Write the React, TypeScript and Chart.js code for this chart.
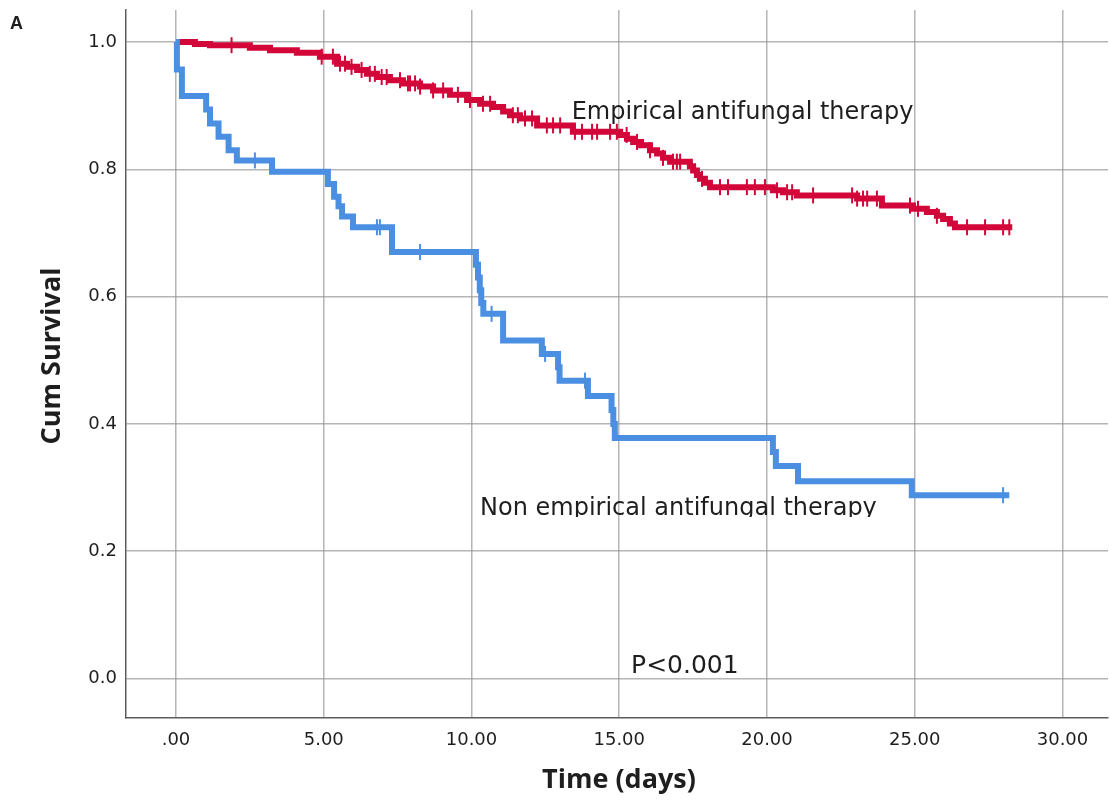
import React, { useEffect, useRef } from "react";
import { Chart, registerables } from "chart.js";

Chart.register(...registerables);

// Axis ticks
const xTickValues = [0, 5, 10, 15, 20, 25, 30];
const xTickLabels = [".00", "5.00", "10.00", "15.00", "20.00", "25.00", "30.00"];
const yTickValues = [0, 0.2, 0.4, 0.6, 0.8, 1.0];
const yTickLabels = ["0.0", "0.2", "0.4", "0.6", "0.8", "1.0"];

// Kaplan–Meier curve, empirical antifungal therapy: event time (days) and survival after it
const empiricalTimes = [
  0, 0.64, 1.15, 2.5, 3.18, 4.09, 4.87, 5.45, 5.79, 6.13, 6.46, 6.8, 7.24, 7.68, 8.26, 8.7,
  9.27, 9.85, 10.29, 10.73, 11.07, 11.3, 11.64, 12.22, 13.43, 15.03, 15.26, 15.47, 15.74,
  16.04, 16.28, 16.48, 16.72, 17.39, 17.5, 17.63, 17.73, 17.9, 18.07, 20.2, 20.54, 21.01,
  23.05, 23.89, 24.94, 25.41, 25.75, 25.96, 26.19, 26.36, 28.3,
];
const empiricalSurvival = [
  1.0, 0.997, 0.995, 0.991, 0.987, 0.983, 0.977, 0.966, 0.961, 0.956, 0.95, 0.945, 0.94,
  0.935, 0.93, 0.924, 0.917, 0.909, 0.903, 0.898, 0.891, 0.885, 0.88, 0.869, 0.859, 0.854,
  0.848, 0.843, 0.838, 0.83, 0.825, 0.818, 0.812, 0.805, 0.798, 0.791, 0.785, 0.779, 0.772,
  0.767, 0.764, 0.759, 0.754, 0.743, 0.738, 0.733, 0.727, 0.722, 0.715, 0.709, 0.709,
];
// Censored cases (days)
const empiricalCensored = [
  1.88, 4.93, 5.31, 5.55, 5.72, 5.94, 6.28, 6.56, 6.73, 6.96, 7.13, 7.58, 7.85, 7.92, 8.09,
  8.26, 8.7, 9.04, 9.54, 9.95, 10.39, 10.63, 11.4, 11.57, 11.81, 12.05, 12.55, 12.76, 13.0,
  13.5, 13.74, 14.08, 14.25, 14.69, 14.92, 15.25, 15.6, 16.04, 16.48, 16.82, 16.95, 17.06,
  17.8, 18.41, 18.68, 19.32, 19.59, 19.93, 20.34, 20.68, 20.85, 21.56, 22.88, 23.05, 23.25,
  23.39, 23.72, 24.84, 25.11, 25.75, 26.77, 27.38, 27.99, 28.2,
];

// Kaplan–Meier curve, non empirical antifungal therapy
const nonEmpiricalTimes = [
  0, 0.03, 0.2, 1.02, 1.15, 1.44, 1.78, 2.06, 3.25, 5.14, 5.35, 5.5, 5.62, 5.99, 7.31,
  10.15, 10.22, 10.28, 10.33, 10.4, 11.07, 12.38, 12.93, 12.98, 13.94, 14.74, 14.8, 14.85,
  20.2, 20.3, 21.05, 24.9, 28.2,
];
const nonEmpiricalSurvival = [
  1.0, 0.957, 0.915, 0.894, 0.872, 0.851, 0.83, 0.814, 0.796, 0.777, 0.757, 0.742, 0.726,
  0.709, 0.67, 0.65, 0.63, 0.61, 0.59, 0.573, 0.531, 0.51, 0.489, 0.468, 0.444, 0.422, 0.4,
  0.378, 0.356, 0.334, 0.31, 0.288, 0.288,
];
const nonEmpiricalCensored = [2.67, 6.8, 6.9, 8.26, 10.68, 12.49, 13.84, 27.99];

const RED = "#d3063a";
const BLUE = "#4a8fe2";
const GRID = "rgba(150,150,150,0.7)";
const AXIS = "#5c5c5c";
const TEXT = "#1e1e1e";
const TICK_FONT = "'DejaVu Sans', 'Liberation Sans', sans-serif";
const TITLE_FONT = "'Open Sans', 'Liberation Sans', sans-serif";

function survivalAt(times: number[], surv: number[], t: number): number {
  let s = surv[0];
  for (let i = 0; i < times.length; i++) {
    if (times[i] <= t) s = surv[i];
  }
  return s;
}

const curve = (times: number[], surv: number[]) =>
  times.map((t, i) => ({ x: t, y: surv[i] }));

const censorPoints = (times: number[], surv: number[], cens: number[]) =>
  cens.map((t) => ({ x: t, y: survivalAt(times, surv, t) }));

// Axis titles, curve labels and the p-value
const annotationPlugin = {
  id: "kmText",
  afterDraw(chart: any) {
    const { ctx, scales } = chart;
    const xs = scales.x;
    const ys = scales.y;
    ctx.save();
    ctx.fillStyle = TEXT;

    ctx.font = `bold 18px 'Liberation Sans', Arial, sans-serif`;
    ctx.textAlign = "left";
    ctx.textBaseline = "alphabetic";
    ctx.fillText("A", 10, 29);

    ctx.font = `bold 27px ${TITLE_FONT}`;
    ctx.textAlign = "center";
    ctx.textBaseline = "middle";
    ctx.save();
    ctx.translate(52, 356);
    ctx.rotate(-Math.PI / 2);
    ctx.fillText("Cum Survival", 0, 0);
    ctx.restore();
    ctx.fillText("Time (days)", 619, 780);

    ctx.font = `24px ${TICK_FONT}`;
    ctx.textAlign = "left";
    ctx.textBaseline = "alphabetic";
    ctx.fillText(
      "Empirical antifungal therapy",
      xs.getPixelForValue(13.39),
      ys.getPixelForValue(0.879)
    );

    ctx.save();
    ctx.beginPath();
    ctx.rect(0, 0, chart.width, ys.getPixelForValue(0.2537));
    ctx.clip();
    ctx.fillText(
      "Non empirical antifungal therapy",
      xs.getPixelForValue(10.29),
      ys.getPixelForValue(0.257)
    );
    ctx.restore();

    ctx.font = `25px ${TICK_FONT}`;
    ctx.fillText("P<0.001", xs.getPixelForValue(15.4), ys.getPixelForValue(0.0086));
    ctx.restore();
  },
};

export default function App() {
  const canvasRef = useRef<HTMLCanvasElement | null>(null);

  useEffect(() => {
    const canvas = canvasRef.current;
    if (!canvas) return;

    const censorStyle = (color: string) => ({
      showLine: false,
      pointStyle: "line" as const,
      rotation: 90,
      pointRadius: 8,
      pointHoverRadius: 8,
      pointBorderWidth: 2,
      borderColor: color,
      backgroundColor: color,
      pointBorderColor: color,
    });

    const chart = new Chart(canvas, {
      type: "line",
      data: {
        datasets: [
          {
            label: "Non empirical censored",
            data: censorPoints(nonEmpiricalTimes, nonEmpiricalSurvival, nonEmpiricalCensored),
            ...censorStyle(BLUE),
          },
          {
            label: "Non empirical antifungal therapy",
            data: curve(nonEmpiricalTimes, nonEmpiricalSurvival),
            stepped: "before",
            borderColor: BLUE,
            borderWidth: 6,
            pointRadius: 0,
            fill: false,
            borderJoinStyle: "miter",
            borderCapStyle: "butt",
          },
          {
            label: "Empirical censored",
            data: censorPoints(empiricalTimes, empiricalSurvival, empiricalCensored),
            ...censorStyle(RED),
          },
          {
            label: "Empirical antifungal therapy",
            data: curve(empiricalTimes, empiricalSurvival),
            stepped: "before",
            borderColor: RED,
            borderWidth: 6,
            pointRadius: 0,
            fill: false,
            borderJoinStyle: "miter",
            borderCapStyle: "butt",
          },
        ],
      },
      options: {
        responsive: false,
        animation: false,
        events: [],
        layout: { autoPadding: false, padding: { left: 0, right: 2, top: 10, bottom: 0 } },
        plugins: {
          legend: { display: false },
          tooltip: { enabled: false },
        },
        scales: {
          x: {
            type: "linear",
            min: -1.692,
            max: 31.54,
            afterBuildTicks: (scale: any) => {
              scale.ticks = xTickValues.map((v) => ({ value: v }));
            },
            afterFit: (scale: any) => {
              scale.height = 85;
              scale.paddingLeft = 0;
              scale.paddingRight = 0;
            },
            grid: { color: GRID, lineWidth: 1.5, drawTicks: false },
            border: { display: true, color: AXIS, width: 1.5 },
            ticks: {
              padding: 12,
              color: TEXT,
              font: { family: TICK_FONT, size: 18 },
              maxRotation: 0,
              autoSkip: false,
              callback: (v: any) => {
                const i = xTickValues.indexOf(Number(v));
                return i >= 0 ? xTickLabels[i] : "";
              },
            },
          },
          y: {
            type: "linear",
            min: -0.062,
            max: 1.0503,
            afterBuildTicks: (scale: any) => {
              scale.ticks = yTickValues.map((v) => ({ value: v }));
            },
            afterFit: (scale: any) => {
              scale.width = 126;
              scale.paddingTop = 0;
              scale.paddingBottom = 0;
            },
            grid: { color: GRID, lineWidth: 1.5, drawTicks: false },
            border: { display: true, color: AXIS, width: 1.5 },
            ticks: {
              padding: 9,
              color: TEXT,
              font: { family: TICK_FONT, size: 18 },
              autoSkip: false,
              callback: (v: any) => {
                const i = yTickValues.findIndex((t) => Math.abs(t - Number(v)) < 1e-9);
                return i >= 0 ? yTickLabels[i] : "";
              },
            },
          },
        },
      },
      plugins: [annotationPlugin],
    });

    return () => chart.destroy();
  }, []);

  return (
    <div
      style={{
        position: "fixed",
        left: 0,
        top: 0,
        width: 1110,
        height: 803,
        background: "#ffffff",
      }}
    >
      <canvas ref={canvasRef} width={1110} height={803} style={{ display: "block" }} />
    </div>
  );
}
